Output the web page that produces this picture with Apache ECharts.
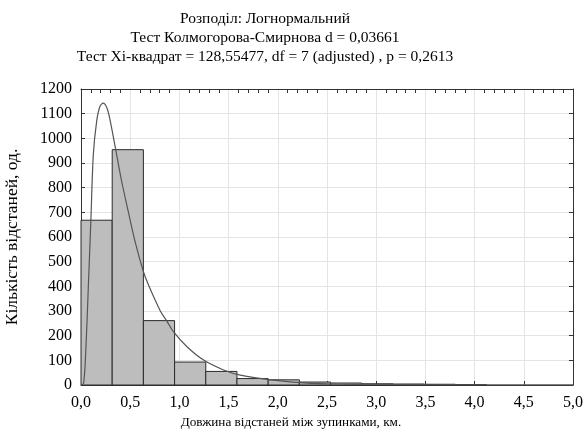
<!DOCTYPE html>
<html>
<head>
<meta charset="utf-8">
<script src="https://cdn.jsdelivr.net/npm/echarts@6/dist/echarts.min.js"></script>
<style>
  html, body { margin: 0; padding: 0; background: #fff; }
  #hist-box { width: 587px; height: 435px; }
</style>
</head>
<body>
<div id="hist-box"></div>
<script>
// інтервали гістограми (початок, ширина) та кількість відстаней
var binWidth = 0.317;
var binStart = [0, 0.317, 0.634, 0.951, 1.268, 1.585, 1.902, 2.219, 2.536, 2.853, 3.17, 3.487, 3.804];
var binCount = [668, 954, 261, 93, 55, 26, 21, 12, 8, 5, 4, 3, 2];

// логнормальна крива
var curveX = [0.0, 0.027, 0.05, 0.074, 0.10, 0.125, 0.159, 0.193, 0.227, 0.27, 0.311, 0.356, 0.413, 0.48, 0.549, 0.633, 0.684, 0.806, 0.874, 0.941, 1.077, 1.246, 1.449, 1.619, 1.957, 2.297, 2.6, 3.0, 3.5, 4.0, 4.5, 5.0];
var curveY = [0, 7, 150, 393, 664, 933, 1069, 1130, 1143, 1116, 1042, 947, 826, 704, 582, 461, 407, 300, 258, 215, 155, 101, 61, 40, 20, 8, 4, 2, 1, 0.5, 0.3, 0.2];

var titleLines = [
    'Розподіл: Логнормальний',
    'Тест Колмогорова-Смирнова d = 0,03661',
    'Тест Хі-квадрат = 128,55477, df = 7 (adjusted) , p = 0,2613'
];
var xName = 'Довжина відстаней між зупинками, км.';
var yName = 'Кількість відстаней, од.';

var serif = 'Liberation Serif';

var barData = binStart.map(function (s, i) { return [s, s + binWidth, binCount[i]]; });
var curveData = curveX.map(function (x, i) { return [x, curveY[i]]; });

var myChart = echarts.init(document.getElementById('hist-box'));
var option = {
    animation: false,
    backgroundColor: '#fff',
    textStyle: { fontFamily: serif, color: '#000' },
    title: [
        {
            text: titleLines.join('\n'),
            left: 260,
            top: 4,
            textAlign: 'center',
            textStyle: { fontFamily: serif, fontSize: 15.5, fontWeight: 'normal', color: '#000', lineHeight: 19 }
        },
        {
            text: xName,
            left: 286,
            top: 411,
            textAlign: 'center',
            textStyle: { fontFamily: serif, fontSize: 13.2, fontWeight: 'normal', color: '#000' }
        }
    ],
    grid: { left: 81, right: 14, top: 89, bottom: 50, outerBoundsMode: 'none', containLabel: false },
    xAxis: [
        {
            type: 'value',
            min: 0, max: 5, interval: 0.5,
            axisLine: { show: true, onZero: false, lineStyle: { color: '#333' } },
            axisTick: { show: true, inside: true, length: 4, lineStyle: { color: '#333' } },
            axisLabel: {
                fontFamily: serif, fontSize: 16, color: '#000', margin: 10,
                formatter: function (v) { return v.toFixed(1).replace('.', ','); }
            },
            splitLine: { show: true, lineStyle: { color: '#e4e4e4' } }
        },
        {
            type: 'value', position: 'top',
            min: 0, max: 5, interval: 0.5,
            axisLine: { show: true, onZero: false, lineStyle: { color: '#333' } },
            axisTick: { show: false, inside: true },
            minorTick: { show: true, splitNumber: 5, length: 4, lineStyle: { color: '#333' } },
            axisLabel: { show: false },
            splitLine: { show: false }
        }
    ],
    yAxis: [
        {
            type: 'value',
            min: 0, max: 1200, interval: 100,
            name: yName,
            nameLocation: 'middle',
            nameGap: 60,
            nameTextStyle: { fontFamily: serif, fontSize: 17.5, color: '#000' },
            axisLine: { show: true, onZero: false, lineStyle: { color: '#333' } },
            axisTick: { show: true, inside: true, length: 4, lineStyle: { color: '#333' } },
            axisLabel: {
                fontFamily: serif, fontSize: 16, color: '#000', margin: 9,
                formatter: function (v) { return String(v); }
            },
            splitLine: { show: true, lineStyle: { color: '#e4e4e4' } }
        },
        {
            type: 'value', position: 'right',
            min: 0, max: 1200, interval: 100,
            axisLine: { show: true, onZero: false, lineStyle: { color: '#333' } },
            axisTick: { show: true, inside: true, length: 4, lineStyle: { color: '#333' } },
            axisLabel: { show: false },
            splitLine: { show: false }
        }
    ],
    series: [
        // стовпці гістограми
        {
            type: 'custom',
            xAxisIndex: 0,
            yAxisIndex: 0,
            data: barData,
            renderItem: function (params, api) {
                var p0 = api.coord([api.value(0), 0]);
                var p1 = api.coord([api.value(1), api.value(2)]);
                return {
                    type: 'rect',
                    shape: { x: p0[0], y: p1[1], width: p1[0] - p0[0], height: p0[1] - p1[1] },
                    style: { fill: '#bdbdbd', stroke: '#2a2a2a', lineWidth: 1 }
                };
            }
        },
        // крива логнормального розподілу
        {
            type: 'line',
            xAxisIndex: 0,
            yAxisIndex: 0,
            data: curveData,
            symbol: 'none',
            smooth: 0.3,
            lineStyle: { color: '#555', width: 1.2 },
            z: 5
        }
    ]
};
myChart.setOption(option);
</script>
</body>
</html>
